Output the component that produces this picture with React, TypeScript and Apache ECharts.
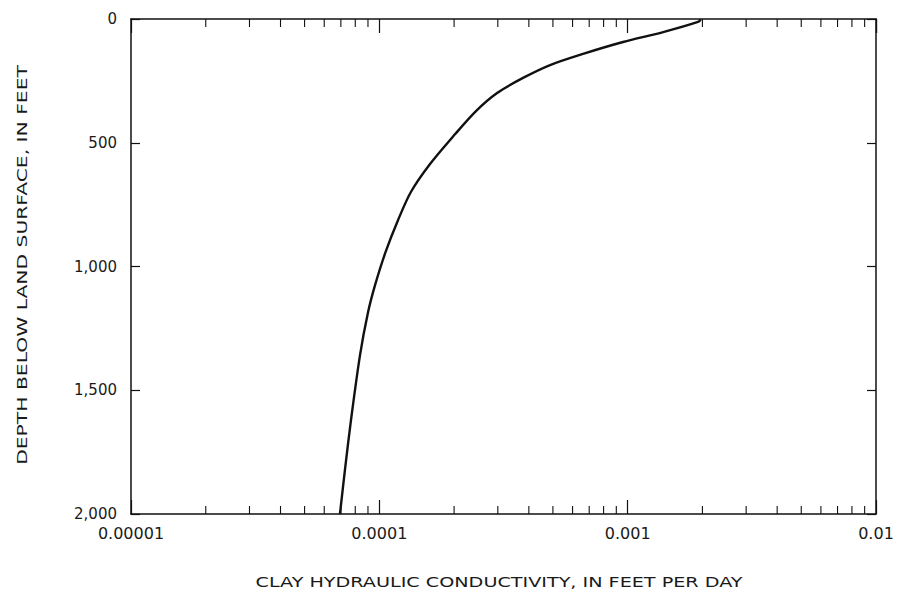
import React, { useEffect, useRef } from "react";
import * as echarts from "echarts";

// Curve: hydraulic conductivity (ft/day) vs depth (ft)
const conductivity = [
  0.00197, 0.00192, 0.00139, 0.000958, 0.000661, 0.000487, 0.000379, 0.000298,
  0.000245, 0.000202, 0.00016, 0.000134, 0.000119, 0.000106, 0.0000961,
  0.0000901, 0.0000836, 0.0000769, 0.0000727, 0.0000694,
];
const depth = [
  2, 12, 53, 93, 141, 186, 238, 299, 372, 465, 586, 699, 812, 941, 1075, 1184,
  1358, 1620, 1822, 2000,
];

const xDecades = [0.00001, 0.0001, 0.001, 0.01];
const xDecadeLabels = ["0.00001", "0.0001", "0.001", "0.01"];
const minorMultipliers = [2, 3, 4, 5, 6, 7, 8, 9];
const yTicks = [0, 500, 1000, 1500, 2000];
const yTickLabels = ["0", "500", "1,000", "1,500", "2,000"];

const xTitle = "CLAY HYDRAULIC CONDUCTIVITY, IN FEET PER DAY";
const yTitle = "DEPTH BELOW LAND SURFACE, IN FEET";

export default function App() {
  const ref = useRef<HTMLDivElement>(null);
  useEffect(() => {
    if (!ref.current) return;
    const chart = echarts.init(ref.current, undefined, { renderer: "svg" });
    const font = "'DejaVu Sans', sans-serif";
    const textColor = "#1a1a1a";
    const minorVals: number[][] = [];
    for (let i = 0; i < xDecades.length - 1; i++) {
      for (const m of minorMultipliers) minorVals.push([xDecades[i] * m, 0]);
    }
    const fmtX = (v: number) => {
      for (let i = 0; i < xDecades.length; i++) {
        if (Math.abs(Math.log10(v) - Math.log10(xDecades[i])) < 1e-6) return xDecadeLabels[i];
      }
      return "";
    };
    const fmtY = (v: number) => {
      const i = yTicks.indexOf(v);
      return i >= 0 ? yTickLabels[i] : "";
    };
    const axisLine = { show: true, onZero: false, lineStyle: { color: "#111", width: 1.5 } };
    const tick = (len: number) => ({
      show: true,
      inside: true,
      length: len,
      lineStyle: { color: "#111", width: 1.2 },
    });
    chart.setOption({
      animation: false,
      backgroundColor: "#fff",
      grid: { left: 131, right: 21, top: 19, bottom: 78, containLabel: false },
      graphic: [
        {
          type: "text",
          x: 499,
          y: 582,
          scaleX: 1.37,
          silent: true,
          style: {
            text: xTitle,
            fontSize: 14,
            fontFamily: font,
            fill: textColor,
            align: "center",
            verticalAlign: "middle",
          },
        },
        {
          type: "text",
          x: 22,
          y: 265,
          rotation: Math.PI / 2,
          scaleX: 1.45,
          silent: true,
          style: {
            text: yTitle,
            fontSize: 14,
            fontFamily: font,
            fill: textColor,
            align: "center",
            verticalAlign: "middle",
          },
        },
      ],
      xAxis: [
        {
          type: "log",
          logBase: 10,
          min: 0.00001,
          max: 0.01,
          position: "bottom",
          axisLine,
          axisTick: tick(14),
          splitLine: { show: false },
          axisLabel: {
            formatter: fmtX,
            margin: 11,
            fontSize: 16,
            fontFamily: font,
            color: textColor,
          },
        },
        {
          type: "log",
          logBase: 10,
          min: 0.00001,
          max: 0.01,
          position: "top",
          axisLine,
          axisTick: tick(14),
          splitLine: { show: false },
          axisLabel: { show: false },
        },
      ],
      yAxis: [
        {
          type: "value",
          inverse: true,
          min: 0,
          max: 2000,
          interval: 500,
          position: "left",
          axisLine,
          axisTick: tick(9),
          splitLine: { show: false },
          axisLabel: {
            formatter: fmtY,
            margin: 14,
            fontSize: 15,
            fontFamily: font,
            color: textColor,
          },
        },
        {
          type: "value",
          inverse: true,
          min: 0,
          max: 2000,
          interval: 500,
          position: "right",
          axisLine,
          axisTick: tick(9),
          splitLine: { show: false },
          axisLabel: { show: false },
        },
      ],
      series: [
        {
          type: "custom",
          xAxisIndex: 0,
          yAxisIndex: 0,
          data: minorVals,
          silent: true,
          renderItem: (params: any, api: any) => {
            const x = api.value(0);
            const bottom = api.coord([x, 2000]);
            const top = api.coord([x, 0]);
            const style = { stroke: "#111", lineWidth: 1.1 };
            return {
              type: "group",
              children: [
                { type: "line", shape: { x1: bottom[0], y1: bottom[1], x2: bottom[0], y2: bottom[1] - 8 }, style },
                { type: "line", shape: { x1: top[0], y1: top[1], x2: top[0], y2: top[1] + 8 }, style },
              ],
            };
          },
        },
        {
          type: "line",
          xAxisIndex: 0,
          yAxisIndex: 0,
          data: conductivity.map((c, i) => [c, depth[i]]),
          showSymbol: false,
          smooth: 0.3,
          lineStyle: { color: "#111", width: 2.4 },
        },
      ],
    });
    return () => chart.dispose();
  }, []);
  return (
    <div
      ref={ref}
      style={{ position: "fixed", left: 0, top: 0, width: 897, height: 592, background: "#fff" }}
    />
  );
}
